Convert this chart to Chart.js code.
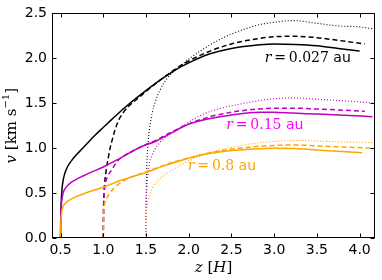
<!DOCTYPE html>
<html>
<head>
<meta charset="utf-8">
<script src="https://cdn.jsdelivr.net/npm/chart.js@4.4.1/dist/chart.umd.min.js"></script>
<style>
  html, body { margin: 0; padding: 0; background: #fff; }
  #velChart { display: block; }
</style>
</head>
<body>
<canvas id="velChart" width="382" height="280"></canvas>
<script>
// axis ticks
const xTicks = [0.5, 1.0, 1.5, 2.0, 2.5, 3.0, 3.5, 4.0];
const yTicks = [0.0, 0.5, 1.0, 1.5, 2.0, 2.5];

// r = 0.027 au (black)
const zBlackSolid = [0.5, 0.502, 0.507, 0.515, 0.53, 0.55, 0.58, 0.62, 0.68, 0.75, 0.82, 0.9, 1.0, 1.1, 1.25, 1.43, 1.64, 1.86, 2.0, 2.25, 2.5, 2.83, 3.0, 3.25, 3.5, 3.75, 4.0];
const vBlackSolid = [0, 0.2, 0.38, 0.52, 0.64, 0.72, 0.79, 0.85, 0.92, 0.99, 1.06, 1.14, 1.23, 1.32, 1.45, 1.59, 1.74, 1.88, 1.95, 2.05, 2.11, 2.15, 2.16, 2.155, 2.14, 2.11, 2.08];
const zBlackDash = [1.0, 1.003, 1.01, 1.03, 1.06, 1.08, 1.11, 1.14, 1.18, 1.23, 1.3, 1.4, 1.5, 1.64, 1.86, 2.0, 2.25, 2.5, 2.75, 3.0, 3.25, 3.5, 3.75, 4.06];
const vBlackDash = [0, 0.3, 0.52, 0.72, 0.9, 1.0, 1.11, 1.21, 1.31, 1.39, 1.47, 1.55, 1.63, 1.74, 1.89, 1.97, 2.08, 2.16, 2.21, 2.24, 2.245, 2.23, 2.2, 2.16];
const zBlackDot = [1.5, 1.502, 1.508, 1.52, 1.54, 1.57, 1.61, 1.66, 1.75, 1.86, 2.0, 2.25, 2.5, 2.83, 3.0, 3.22, 3.5, 3.75, 4.0, 4.2];
const vBlackDot = [0, 0.4, 0.75, 1.0, 1.2, 1.38, 1.52, 1.64, 1.78, 1.88, 1.99, 2.15, 2.27, 2.375, 2.4, 2.42, 2.39, 2.36, 2.35, 2.32];

// r = 0.15 au (magenta)
const zMagSolid = [0.5, 0.502, 0.507, 0.515, 0.53, 0.55, 0.6, 0.67, 0.75, 0.84, 1.0, 1.2, 1.43, 1.62, 1.8, 2.01, 2.25, 2.5, 2.83, 3.0, 3.22, 3.5, 3.75, 4.15];
const vMagSolid = [0, 0.18, 0.32, 0.42, 0.5, 0.545, 0.6, 0.645, 0.685, 0.725, 0.79, 0.89, 1.01, 1.08, 1.17, 1.27, 1.33, 1.37, 1.4, 1.4, 1.39, 1.38, 1.37, 1.35];
const zMagDash = [1.0, 1.003, 1.008, 1.02, 1.05, 1.1, 1.17, 1.25, 1.35, 1.45, 1.62, 1.8, 2.0, 2.25, 2.5, 2.75, 3.0, 3.25, 3.5, 3.75, 4.06];
const vMagDash = [0, 0.25, 0.45, 0.58, 0.68, 0.76, 0.86, 0.92, 0.97, 1.02, 1.09, 1.18, 1.27, 1.35, 1.4, 1.43, 1.445, 1.445, 1.435, 1.425, 1.41];
const zMagDot = [1.5, 1.502, 1.51, 1.525, 1.54, 1.57, 1.6, 1.66, 1.72, 1.8, 1.9, 2.0, 2.2, 2.4, 2.6, 2.83, 3.0, 3.22, 3.5, 3.75, 4.0, 4.2];
const vMagDot = [0, 0.3, 0.55, 0.72, 0.83, 0.92, 0.98, 1.06, 1.11, 1.17, 1.23, 1.29, 1.39, 1.45, 1.49, 1.53, 1.55, 1.56, 1.545, 1.53, 1.515, 1.5];

// r = 0.8 au (orange)
const zOrSolid = [0.5, 0.502, 0.507, 0.515, 0.53, 0.56, 0.6, 0.67, 0.75, 0.85, 1.0, 1.2, 1.5, 1.7, 1.9, 2.13, 2.48, 2.75, 3.0, 3.25, 3.5, 3.75, 4.03];
const vOrSolid = [0, 0.12, 0.22, 0.3, 0.35, 0.39, 0.42, 0.455, 0.485, 0.52, 0.565, 0.64, 0.73, 0.8, 0.86, 0.92, 0.97, 0.99, 1.0, 0.995, 0.98, 0.965, 0.95];
const zOrDash = [1.0, 1.003, 1.01, 1.02, 1.05, 1.08, 1.12, 1.21, 1.33, 1.45, 1.6, 1.8, 2.0, 2.25, 2.5, 2.75, 3.0, 3.25, 3.5, 3.75, 4.14];
const vOrDash = [0, 0.2, 0.33, 0.4, 0.46, 0.5, 0.55, 0.62, 0.68, 0.72, 0.77, 0.84, 0.89, 0.95, 0.99, 1.015, 1.03, 1.035, 1.025, 1.015, 1.0];
const zOrDot = [1.5, 1.503, 1.515, 1.53, 1.58, 1.66, 1.78, 1.94, 2.05, 2.25, 2.5, 2.75, 3.0, 3.25, 3.5, 3.75, 4.0, 4.2];
const vOrDot = [0, 0.2, 0.36, 0.44, 0.56, 0.66, 0.74, 0.83, 0.88, 0.95, 1.01, 1.05, 1.075, 1.085, 1.08, 1.07, 1.065, 1.06];

// curve labels
const labelRadius = ["0.027", "0.15", "0.8"];
const labelZ = [2.89, 2.44, 1.99];
const labelV = [2.0, 1.25, 0.8];
const labelColors = ["#000000", "#ff00ff", "#ffa500"];

const BLACK = "#000000";
const MAGENTA = "#bf00bf";
const ORANGE = "#ffa500";

function pts(zs, vs) {
  return zs.map((z, i) => ({ x: z, y: vs[i] }));
}

function series(zs, vs, color, style) {
  const ds = {
    data: pts(zs, vs),
    borderColor: color,
    backgroundColor: color,
    borderWidth: 1.5,
    pointRadius: 0,
    fill: false,
    cubicInterpolationMode: "monotone",
  };
  if (style === "dash") ds.borderDash = [5, 3];
  if (style === "dot") {
    ds.borderDash = [1, 2];
    ds.borderWidth = 1.1;
  }
  return ds;
}

// draws the mixed-style pieces of text one after another
function drawPieces(ctx, pieces, x, y, align) {
  let total = 0;
  pieces.forEach((p) => {
    ctx.font = p.f;
    total += ctx.measureText(p.t).width;
  });
  let cx = align === "center" ? x - total / 2 : x;
  pieces.forEach((p) => {
    ctx.font = p.f;
    ctx.fillText(p.t, cx, y + (p.dy || 0));
    cx += ctx.measureText(p.t).width;
  });
}

const SERIF = '"DejaVu Serif"';
const SANS = '"DejaVu Sans"';

const framePlugin = {
  id: "frame",
  afterDraw(chart) {
    const { ctx, chartArea: a, scales } = chart;
    const L = Math.round(a.left) + 0.5;
    const R = Math.round(a.right) - 0.5;
    const T = Math.round(a.top) + 0.5;
    const B = Math.round(a.bottom) - 0.5;
    ctx.save();
    ctx.strokeStyle = "#000";
    ctx.lineWidth = 1;
    ctx.strokeRect(L, T, R - L, B - T);

    // inward ticks on all four sides
    ctx.beginPath();
    xTicks.forEach((v) => {
      const px = Math.round(scales.x.getPixelForValue(v)) + 0.5;
      ctx.moveTo(px, B); ctx.lineTo(px, B - 4);
      ctx.moveTo(px, T); ctx.lineTo(px, T + 4);
    });
    yTicks.forEach((v) => {
      const py = Math.round(scales.y.getPixelForValue(v)) + 0.5;
      ctx.moveTo(L, py); ctx.lineTo(L + 4, py);
      ctx.moveTo(R, py); ctx.lineTo(R - 4, py);
    });
    ctx.stroke();

    // curve labels
    ctx.textBaseline = "middle";
    ctx.textAlign = "left";
    labelRadius.forEach((r, i) => {
      ctx.fillStyle = labelColors[i];
      const x = scales.x.getPixelForValue(labelZ[i]);
      const y = scales.y.getPixelForValue(labelV[i]);
      drawPieces(ctx, [
        { t: "r", f: "italic 14px " + SERIF },
        { t: "\u2009=\u2009", f: "14px " + SERIF },
        { t: r, f: "14px " + SERIF },
        { t: " au", f: "14px " + SANS },
      ], x, y, "left");
    });

    // axis titles
    ctx.fillStyle = "#000";
    ctx.textBaseline = "middle";
    drawPieces(ctx, [
      { t: "z", f: "italic 15px " + SERIF },
      { t: " [", f: "15px " + SERIF },
      { t: "H", f: "italic 15px " + SERIF },
      { t: "]", f: "15px " + SERIF },
    ], (a.left + a.right) / 2, 268, "center");

    ctx.translate(12, (a.top + a.bottom) / 2);
    ctx.rotate(-Math.PI / 2);
    drawPieces(ctx, [
      { t: "v", f: "italic 15px " + SERIF },
      { t: " [km s", f: "15px " + SERIF },
      { t: "\u22121", f: "10px " + SERIF, dy: -6 },
      { t: "]", f: "15px " + SERIF },
    ], 0, 0, "center");
    ctx.restore();
  },
};

const ctx = document.getElementById("velChart").getContext("2d");

new Chart(ctx, {
  type: "line",
  data: {
    datasets: [
      series(zOrDot, vOrDot, ORANGE, "dot"),
      series(zOrDash, vOrDash, ORANGE, "dash"),
      series(zOrSolid, vOrSolid, ORANGE, "solid"),
      series(zMagDot, vMagDot, MAGENTA, "dot"),
      series(zMagDash, vMagDash, MAGENTA, "dash"),
      series(zMagSolid, vMagSolid, MAGENTA, "solid"),
      series(zBlackDot, vBlackDot, BLACK, "dot"),
      series(zBlackDash, vBlackDash, BLACK, "dash"),
      series(zBlackSolid, vBlackSolid, BLACK, "solid"),
    ],
  },
  options: {
    responsive: false,
    animation: false,
    layout: { padding: { top: 12, right: 7, left: 0, bottom: 0 } },
    plugins: {
      legend: { display: false },
      tooltip: { enabled: false },
    },
    scales: {
      x: {
        type: "linear",
        min: 0.4,
        max: 4.18,
        afterBuildTicks: (s) => { s.ticks = xTicks.map((v) => ({ value: v })); },
        afterFit: (s) => { s.height = 42; },
        grid: { display: false, drawTicks: false },
        border: { display: false },
        ticks: {
          color: "#000",
          padding: 4,
          maxRotation: 0,
          autoSkip: false,
          font: { family: "DejaVu Sans", size: 14 },
          callback: (v) => Number(v).toFixed(1),
        },
      },
      y: {
        type: "linear",
        min: 0,
        max: 2.5,
        afterBuildTicks: (s) => { s.ticks = yTicks.map((v) => ({ value: v })); },
        afterFit: (s) => { s.width = 52; },
        grid: { display: false, drawTicks: false },
        border: { display: false },
        ticks: {
          color: "#000",
          padding: 5,
          autoSkip: false,
          font: { family: "DejaVu Sans", size: 14 },
          callback: (v) => Number(v).toFixed(1),
        },
      },
    },
  },
  plugins: [framePlugin],
});
</script>
</body>
</html>
